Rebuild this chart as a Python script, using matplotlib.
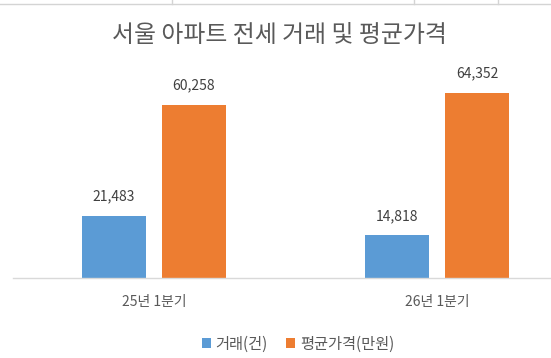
import matplotlib
matplotlib.use("Agg")
import matplotlib.pyplot as plt
from matplotlib.lines import Line2D
import numpy as np

plt.rcParams['font.family'] = ['Noto Sans CJK KR', 'DejaVu Sans']

categories = ["25년 1분기", "26년 1분기"]
series_names = ["거래(건)", "평균가격(만원)"]
trades = [21483, 14818]
avg_price = [60258, 64352]
colors = ["#5B9BD5", "#ED7D31"]
title = "서울 아파트 전세 거래 및 평균가격"

W, H = 551, 358
fig = plt.figure(figsize=(W/100, H/100), dpi=100)
fig.patch.set_facecolor("white")

# excel grid remnants at top
fig.add_artist(Line2D([0, 1], [1-3.5/H, 1-3.5/H], color="#d4d4d4", lw=1))
for xp in [172, 414, 498]:
    fig.add_artist(Line2D([xp/W, xp/W], [1-3.5/H, 1], color="#d4d4d4", lw=1))

left = 12.5/W
ax = fig.add_axes([left, 80/H, 566/W, 201.3/H])
x = np.arange(len(categories))
bw = 0.226
off = 0.1413
b1 = ax.bar(x - off, trades, bw, color=colors[0], label=series_names[0])
b2 = ax.bar(x + off, avg_price, bw, color=colors[1], label=series_names[1])
ax.set_xlim(-0.5, 1.5)
ax.set_ylim(0, 70000)
for s in ["top", "right", "left"]:
    ax.spines[s].set_visible(False)
ax.spines["bottom"].set_color("#d9d9d9")
ax.spines["bottom"].set_linewidth(1)
ax.set_yticks([])
ax.set_xticks(x)
ax.set_xticklabels(categories, fontsize=10, color="#595959")
ax.tick_params(axis="x", length=0, pad=12)

for bars, vals in [(b1, trades), (b2, avg_price)]:
    for r, v in zip(bars, vals):
        ax.annotate(f"{v:,}", (r.get_x() + r.get_width()/2, v), xytext=(0, 9),
                    textcoords="offset points", ha="center", va="bottom",
                    fontsize=10, color="#404040")

fig.text(279/W, 1-36/H, title, ha="center", va="center", fontsize=17.2, color="#595959")

fig.legend(handles=[b1, b2], labels=series_names, loc="center", bbox_to_anchor=(298/W, 1-344/H),
           ncol=2, frameon=False, fontsize=11, labelcolor="#595959",
           handlelength=0.6, handleheight=0.6, handletextpad=0.3, columnspacing=1.2)

fig.savefig("out.png", dpi=100, facecolor="white")
